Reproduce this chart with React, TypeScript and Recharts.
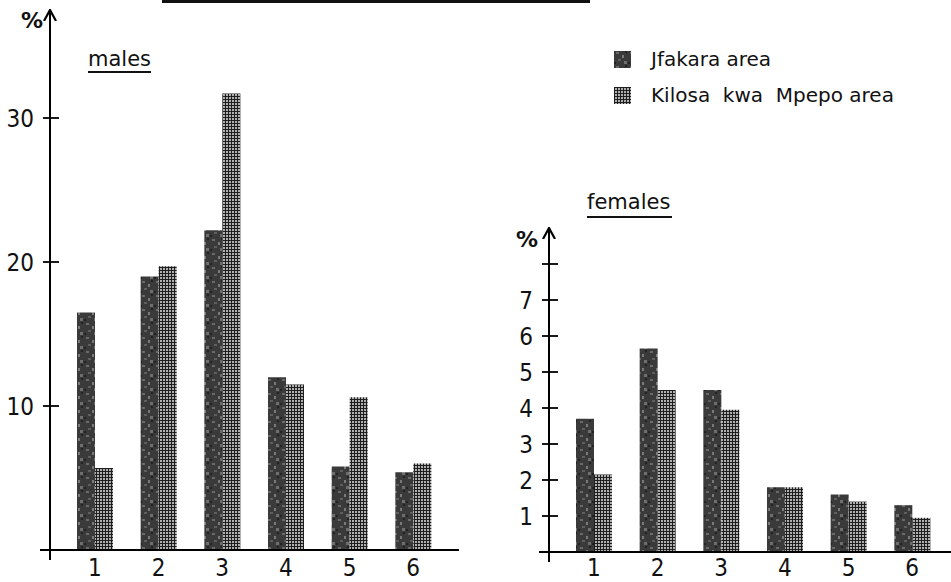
import React from "react";
import { BarChart, Bar, XAxis, YAxis, Legend } from "recharts";

// age groups on the x axis
const groups = ["1", "2", "3", "4", "5", "6"];

// males, % of examined
const malesJfakara = [16.5, 19.0, 22.2, 12.0, 5.8, 5.4];
const malesKilosa = [5.7, 19.7, 31.7, 11.5, 10.6, 6.0];

// females, % of examined
const femalesJfakara = [3.7, 5.65, 4.5, 1.8, 1.6, 1.3];
const femalesKilosa = [2.15, 4.5, 3.95, 1.8, 1.4, 0.95];

const malesTicks = [0, 10, 20, 30];
const femalesTicks = [0, 1, 2, 3, 4, 5, 6, 7, 8];

const seriesNames = ["Jfakara area", "Kilosa  kwa  Mpepo area"];

const NUM_FONT = "'DejaVu Sans Condensed', 'Liberation Sans Narrow', 'DejaVu Sans', sans-serif";
const TXT_FONT = "'DejaVu Sans', sans-serif";

const malesData = groups.map((g, i) => ({ g, a: malesJfakara[i], b: malesKilosa[i] }));
const femalesData = groups.map((g, i) => ({ g, a: femalesJfakara[i], b: femalesKilosa[i] }));

const TICK = 7;
const MARGIN = 9;

// y tick that crosses the axis; the 0 tick draws the little cross at the origin
function CrossTick(props: any) {
  const { x, y, payload, showLabel } = props;
  const ax = x + TICK + MARGIN;
  if (payload.value === 0) {
    return (
      <g>
        <line x1={ax - 10} y1={y} x2={ax} y2={y} stroke="#000" strokeWidth={2} />
        <line x1={ax} y1={y} x2={ax} y2={y + 10} stroke="#000" strokeWidth={2} />
      </g>
    );
  }
  return (
    <g>
      <line x1={ax - TICK} y1={y} x2={ax + TICK + 2} y2={y} stroke="#000" strokeWidth={1.8} />
      {showLabel(payload.value) && (
        <text x={x} y={y} dy="0.36em" textAnchor="end" fontSize={24} fontFamily={NUM_FONT} fill="#111">
          {payload.value}
        </text>
      )}
    </g>
  );
}

function GroupTick(props: any) {
  const { x, y, payload } = props;
  return (
    <text x={x} y={y} dy="0.72em" textAnchor="middle" fontSize={24} fontFamily={NUM_FONT} fill="#111">
      {payload.value}
    </text>
  );
}

function LegendBox(props: any) {
  const { payload } = props;
  return (
    <div style={{ fontFamily: TXT_FONT, fontSize: 20, color: "#111" }}>
      {(payload || []).map((e: any, i: number) => (
        <div key={i} style={{ display: "flex", alignItems: "center", height: 36 }}>
          <svg width={17} height={17} style={{ marginRight: 20 }}>
            <rect x={0} y={0} width={17} height={17} fill={e.color} />
          </svg>
          <span style={{ whiteSpace: "pre" }}>{e.value}</span>
        </div>
      ))}
    </div>
  );
}

const axisLine = { stroke: "#000", strokeWidth: 2, markerStart: "url(#arrowHead)" };
const xLine = { stroke: "#000", strokeWidth: 2.2 };

export default function App() {
  return (
    <div style={{ position: "absolute", left: 0, top: 0, width: 951, height: 582, background: "#fff", fontFamily: TXT_FONT, overflow: "hidden" }}>
      <svg width={0} height={0} style={{ position: "absolute" }}>
        <defs>
          <marker id="arrowHead" viewBox="0 0 12 14" refX={1} refY={7} markerWidth={12} markerHeight={14}
            markerUnits="userSpaceOnUse" orient="auto">
            <path d="M12,1 L1,7 L12,13" fill="none" stroke="#000" strokeWidth={2.2} />
          </marker>
          <pattern id="mottle" width={14} height={14} patternUnits="userSpaceOnUse">
            <rect width={14} height={14} fill="#3a3a3a" />
            <rect x={2} y={1} width={3} height={2} fill="#6a6a6a" />
            <rect x={8} y={4} width={2} height={3} fill="#7a7a7a" />
            <rect x={4} y={8} width={3} height={2} fill="#5e5e5e" />
            <rect x={10} y={10} width={3} height={3} fill="#6e6e6e" />
            <rect x={0} y={11} width={2} height={2} fill="#222" />
            <rect x={11} y={0} width={2} height={2} fill="#222" />
          </pattern>
          <pattern id="grid" width={3} height={3} patternUnits="userSpaceOnUse">
            <rect width={3} height={3} fill="#b0b0b0" />
            <rect width={3} height={1} fill="#1e1e1e" />
            <rect width={1} height={3} fill="#1e1e1e" />
          </pattern>
        </defs>
      </svg>

      {/* rule left over from the figure above */}
      <div style={{ position: "absolute", left: 162, top: 0, width: 428, height: 3, background: "#111" }} />

      {/* males */}
      <div style={{ position: "absolute", left: 0, top: 0 }}>
        <BarChart width={480} height={582} data={malesData} margin={{ top: 10, right: 21, bottom: 0, left: 0 }}
          barSize={18} barGap={0}>
          <XAxis dataKey="g" axisLine={xLine} tickLine={false} tickSize={0} tickMargin={9} height={32}
            padding={{ left: 13, right: 14 }} tick={<GroupTick />} />
          <YAxis type="number" domain={[0, 37.5]} ticks={malesTicks} width={50} axisLine={axisLine}
            tickLine={false} tickSize={TICK} tickMargin={MARGIN} interval={0}
            tick={<CrossTick showLabel={() => true} />} />
          <Legend layout="vertical" verticalAlign="middle" align="center" content={<LegendBox />}
            wrapperStyle={{ left: 614, top: 41, width: 320 }} />
          <Bar dataKey="a" name={seriesNames[0]} fill="url(#mottle)" isAnimationActive={false} />
          <Bar dataKey="b" name={seriesNames[1]} fill="url(#grid)" isAnimationActive={false} />
        </BarChart>
      </div>
      <div style={{ position: "absolute", left: 21, top: 8, fontSize: 22, fontWeight: "bold", color: "#111" }}>%</div>
      <div style={{ position: "absolute", left: 88, top: 48, fontSize: 21, color: "#111", borderBottom: "2px solid #111", lineHeight: "22px", paddingBottom: 1 }}>males</div>

      {/* females */}
      <div style={{ position: "absolute", left: 480, top: 0 }}>
        <BarChart width={471} height={582} data={femalesData} margin={{ top: 228, right: 0, bottom: 0, left: 0 }}
          barSize={18} barGap={0}>
          <XAxis dataKey="g" axisLine={xLine} tickLine={false} tickSize={0} tickMargin={7} height={30}
            padding={{ left: 13, right: 7 }} tick={<GroupTick />} />
          <YAxis type="number" domain={[0, 9]} ticks={femalesTicks} width={69} axisLine={axisLine}
            tickLine={false} tickSize={TICK} tickMargin={MARGIN} interval={0}
            tick={<CrossTick showLabel={(v: number) => v < 8} />} />
          <Bar dataKey="a" name={seriesNames[0]} fill="url(#mottle)" isAnimationActive={false} />
          <Bar dataKey="b" name={seriesNames[1]} fill="url(#grid)" isAnimationActive={false} />
        </BarChart>
      </div>
      <div style={{ position: "absolute", left: 516, top: 227, fontSize: 22, fontWeight: "bold", color: "#111" }}>%</div>
      <div style={{ position: "absolute", left: 587, top: 191, fontSize: 21, color: "#111", borderBottom: "2px solid #111", lineHeight: "22px", paddingBottom: 3, paddingRight: 2 }}>females</div>
    </div>
  );
}
